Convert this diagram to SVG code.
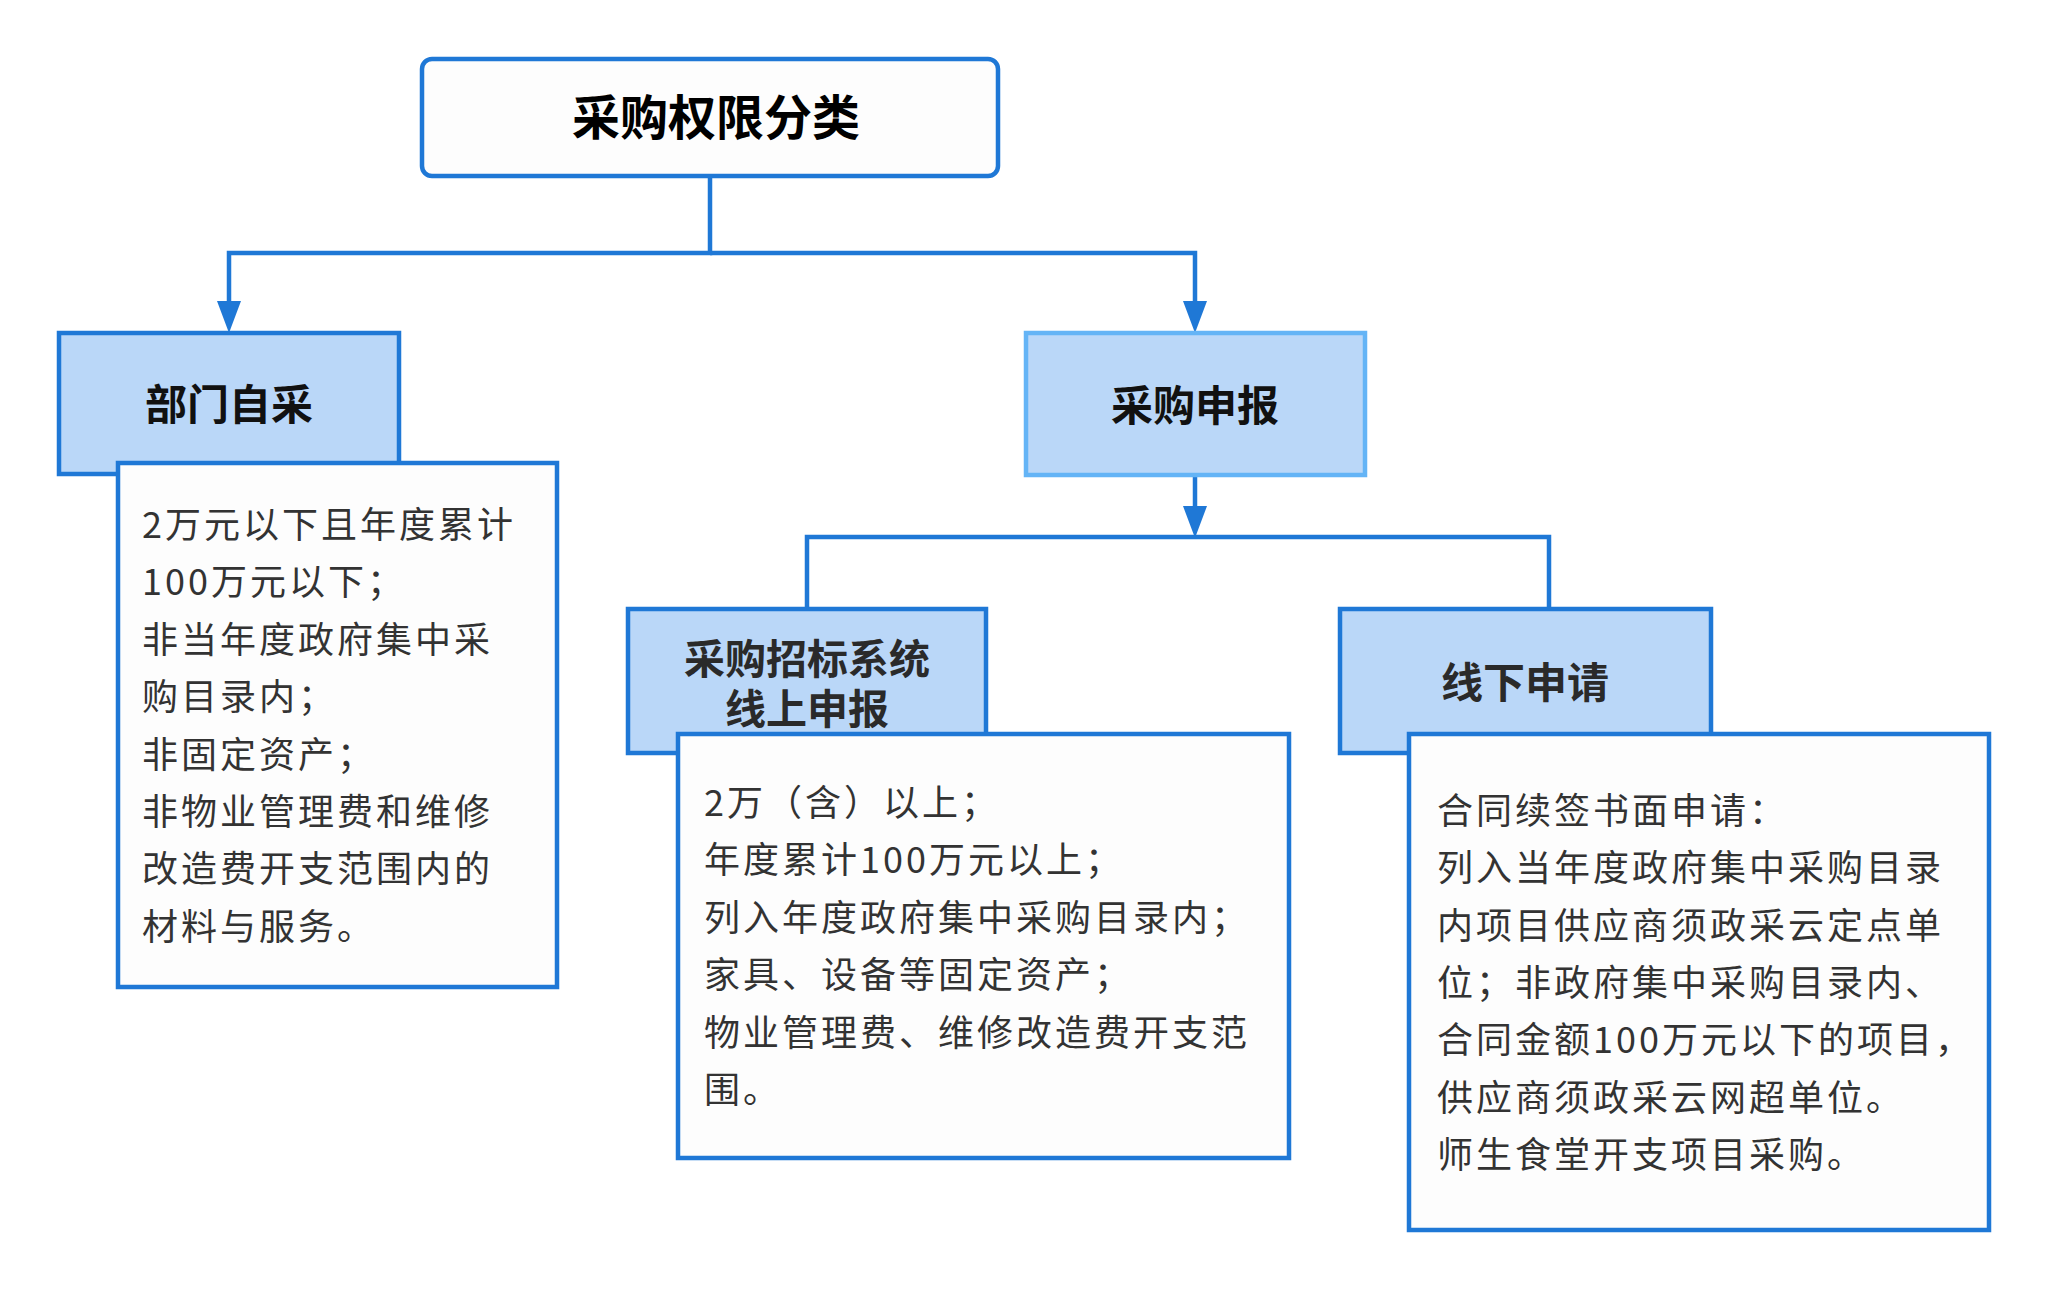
<svg xmlns="http://www.w3.org/2000/svg" width="2048" height="1290" viewBox="0 0 2048 1290">
<style>
.bg{fill:#ffffff}
.root{fill:#fdfdfd;stroke:#1f78d6;stroke-width:4.5}
.head{fill:#bad7f8;stroke:#1f78d6;stroke-width:4.5}
.head2{fill:#bad7f8;stroke:#64b4f6;stroke-width:4.5}
.detail{fill:#fdfdfd;stroke:#1f78d6;stroke-width:4.5}
.conn{fill:none;stroke:#1f78d6;stroke-width:4.5}
.lbl{font-family:"Noto Sans CJK SC","Noto Sans",sans-serif;font-weight:700;text-anchor:middle}
.txt{font-family:"Noto Sans CJK SC","Noto Sans",sans-serif;font-size:36px;fill:#333333;letter-spacing:3px}
</style>
<defs>
<marker id="arr" viewBox="0 0 32 24" refX="12" refY="12" markerWidth="32" markerHeight="24" markerUnits="userSpaceOnUse" orient="auto">
<path d="M0,0 L32,12 L0,24 Z" fill="#1f78d6"/>
</marker>
</defs>
<rect class="bg" x="0" y="0" width="2048" height="1290"/>
<g id="connectors">
<path class="conn" d="M710,176 V253 H229 V313" marker-end="url(#arr)"/>
<path class="conn" d="M710,253 H1195 V313" marker-end="url(#arr)"/>
<path class="conn" d="M1195,475 V518" marker-end="url(#arr)"/>
<path class="conn" d="M807,609 V537 H1549 V609"/>
</g>
<g id="node-root">
<rect class="root" x="422" y="59" width="576" height="117" rx="10"/>
<text class="lbl" x="716" y="135" font-size="48" fill="#000000">采购权限分类</text>
</g>
<g id="node-bumen">
<rect class="head" x="59" y="333" width="340" height="141"/>
<text class="lbl" x="229" y="420" font-size="42" fill="#111111">部门自采</text>
</g>
<g id="node-bumen-detail">
<rect class="detail" x="118" y="463" width="439" height="524"/>
<text class="txt" x="142">
<tspan x="142" y="538">2万元以下且年度累计</tspan>
<tspan x="142" y="595.4">100万元以下；</tspan>
<tspan x="142" y="652.8">非当年度政府集中采</tspan>
<tspan x="142" y="710.2">购目录内；</tspan>
<tspan x="142" y="767.6">非固定资产；</tspan>
<tspan x="142" y="825">非物业管理费和维修</tspan>
<tspan x="142" y="882.4">改造费开支范围内的</tspan>
<tspan x="142" y="939.8">材料与服务。</tspan>
</text>
</g>
<g id="node-shenbao">
<rect class="head2" x="1026" y="333" width="339" height="142"/>
<text class="lbl" x="1195" y="421" font-size="42" fill="#111111">采购申报</text>
</g>
<g id="node-online">
<rect class="head" x="628" y="609" width="358" height="144"/>
<text class="lbl" font-size="41" fill="#2a2a2a"><tspan x="807" y="674">采购招标系统</tspan><tspan x="807" y="724">线上申报</tspan></text>
</g>
<g id="node-online-detail">
<rect class="detail" x="678" y="734" width="611" height="424"/>
<text class="txt">
<tspan x="704" y="816">2万（含）以上；</tspan>
<tspan x="704" y="873.4">年度累计100万元以上；</tspan>
<tspan x="704" y="930.8">列入年度政府集中采购目录内；</tspan>
<tspan x="704" y="988.2">家具、设备等固定资产；</tspan>
<tspan x="704" y="1045.6">物业管理费、维修改造费开支范</tspan>
<tspan x="704" y="1103">围。</tspan>
</text>
</g>
<g id="node-offline">
<rect class="head" x="1340" y="609" width="371" height="144"/>
<text class="lbl" x="1525" y="698" font-size="42" fill="#2a2a2a">线下申请</text>
</g>
<g id="node-offline-detail">
<rect class="detail" x="1409" y="734" width="580" height="496"/>
<text class="txt">
<tspan x="1437" y="824">合同续签书面申请：</tspan>
<tspan x="1437" y="881.3">列入当年度政府集中采购目录</tspan>
<tspan x="1437" y="938.6">内项目供应商须政采云定点单</tspan>
<tspan x="1437" y="995.9">位；非政府集中采购目录内、</tspan>
<tspan x="1437" y="1053.2">合同金额100万元以下的项目，</tspan>
<tspan x="1437" y="1110.5">供应商须政采云网超单位。</tspan>
<tspan x="1437" y="1167.8">师生食堂开支项目采购。</tspan>
</text>
</g>
</svg>
